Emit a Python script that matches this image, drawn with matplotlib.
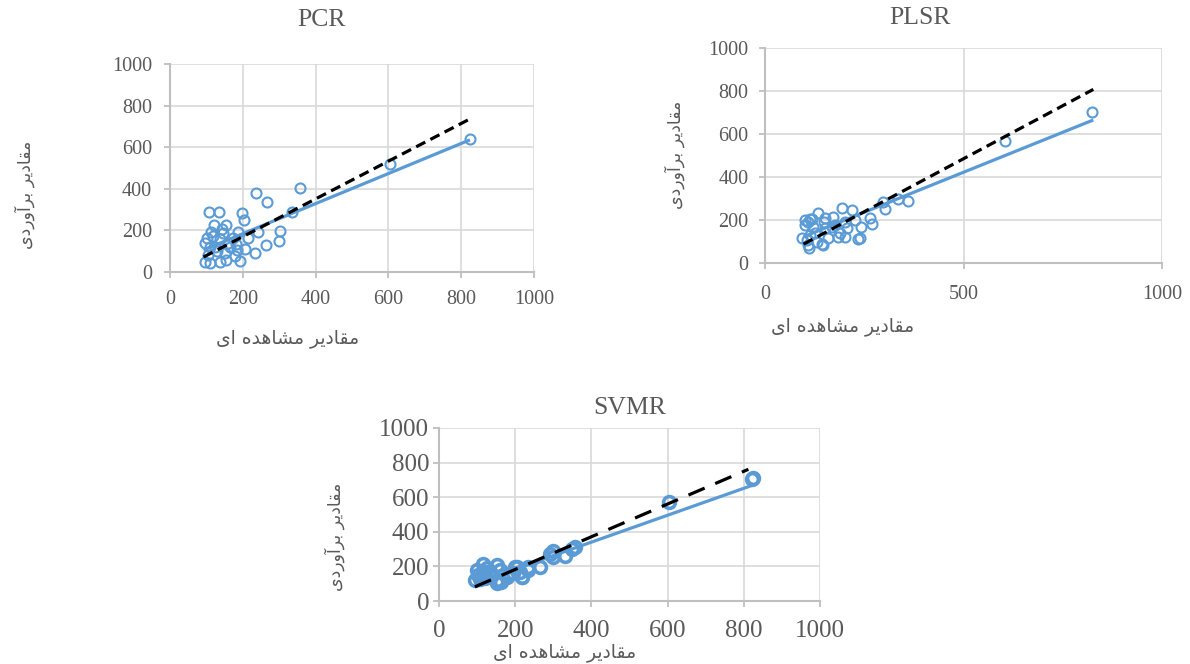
import numpy as np
import matplotlib.pyplot as plt

# --- observed / estimated values for each model ---
pcr_obs = [824, 604, 357, 236, 267, 335, 108, 134, 198, 204, 120, 153, 112, 146, 188, 242, 302,
           101, 137, 173, 214, 299, 264, 96, 124, 165, 206, 234, 151, 179, 192, 137, 96, 110,
           184, 104, 118, 160, 128, 142, 180, 110, 155]
pcr_est = [639, 519, 404, 380, 337, 290, 288, 288, 282, 248, 228, 228, 193, 187, 190, 192, 195,
           163, 159, 163, 163, 147, 130, 139, 120, 120, 111, 91, 91, 77, 53, 48, 48, 45,
           106, 82, 175, 140, 100, 205, 135, 120, 60]

plsr_obs = [823, 605, 298, 302, 336, 359, 193, 113, 134, 151, 171, 101, 122, 168, 201, 227, 264,
            269, 206, 151, 92, 113, 185, 201, 239, 109, 143, 159, 130, 108, 243, 218, 176, 235,
            118, 100, 125, 190, 148, 105, 111, 147]
plsr_est = [704, 569, 285, 253, 298, 288, 258, 203, 231, 209, 215, 177, 169, 169, 192, 200, 210,
            182, 161, 161, 115, 130, 122, 122, 115, 84, 90, 115, 99, 192, 169, 245, 177, 112,
            205, 200, 140, 140, 190, 105, 68, 84]

svmr_obs = [823, 822, 604, 357, 350, 300, 300, 330, 265, 234, 219, 291, 116, 151, 99, 103, 94,
            134, 151, 151, 199, 212, 217, 234, 178, 121, 164, 112, 204, 195, 125, 140, 108, 160,
            185, 120]
svmr_est = [711, 705, 571, 312, 300, 289, 255, 259, 197, 197, 140, 274, 216, 207, 178, 149, 121,
            168, 121, 102, 197, 168, 140, 182, 140, 168, 111, 149, 197, 163, 190, 150, 130, 180,
            155, 135]

# trend line (solid) and dashed line: slope, intercept, x span
fit_slope = [0.723, 0.744, 0.778]
fit_icpt = [39.5, 50.0, 29.0]
ref_slope = [0.907, 0.986, 0.946]
ref_icpt = [-11.5, -8.0, -7.0]
line_x = [[92, 824], [97, 827], [94, 820]]
ref_x_end = [824, 827, 812]

titles = ['PCR', 'PLSR', 'SVMR']
x_ticks = [[0, 200, 400, 600, 800, 1000], [0, 500, 1000], [0, 200, 400, 600, 800, 1000]]
y_ticks = [0, 200, 400, 600, 800, 1000]

ylab_fa = 'مقادیر برآوردی'
xlab_fa = 'مقادیر مشاهده ای'

# Arabic-script shaping (isolated, final, initial, medial)
FORMS = {
    'ا': '\uFE8D\uFE8E\uFE8D\uFE8E', 'آ': '\uFE81\uFE82\uFE81\uFE82',
    'ب': '\uFE8F\uFE90\uFE91\uFE92', 'د': '\uFEA9\uFEAA\uFEA9\uFEAA',
    'ر': '\uFEAD\uFEAE\uFEAD\uFEAE', 'و': '\uFEED\uFEEE\uFEED\uFEEE',
    'ش': '\uFEB5\uFEB6\uFEB7\uFEB8', 'ق': '\uFED5\uFED6\uFED7\uFED8',
    'م': '\uFEE1\uFEE2\uFEE3\uFEE4', 'ه': '\uFEE9\uFEEA\uFEEB\uFEEC',
    'ی': '\uFEEF\uFEF0\uFEF3\uFEF4',
}
NO_LEFT = set('اآدذرزژو')


def shape_fa(text):
    out = []
    for i, c in enumerate(text):
        if c not in FORMS:
            out.append(c)
            continue
        prev = text[i - 1] if i > 0 else ''
        nxt = text[i + 1] if i + 1 < len(text) else ''
        join_prev = prev in FORMS and prev not in NO_LEFT
        join_next = nxt in FORMS and c not in NO_LEFT
        idx = {(False, False): 0, (True, False): 1, (False, True): 2, (True, True): 3}[(join_prev, join_next)]
        out.append(FORMS[c][idx])
    return ''.join(reversed(out))


blue = '#5B9BD5'
txt_gray = '#595959'
axis_gray = '#BFBFBF'
grid_gray = '#D9D9D9'

plt.rcParams['font.family'] = ['Liberation Serif']

fig = plt.figure(figsize=(11.9, 6.64), dpi=100)
W, H = 1190, 664

# axes boxes in pixels: left, top, right, bottom
boxes = [(170, 64, 534, 272), (765, 48, 1162, 263), (439, 428, 820, 601)]
obs_all = [pcr_obs, plsr_obs, svmr_obs]
est_all = [pcr_est, plsr_est, svmr_est]
tick_fs = [14.5, 14.5, 18]
tick_pad_x = [9, 12, 10]
tick_pad_y = [9, 8, 3]
ms = [7.2, 7.2, 8.5]
mew = [1.5, 1.5, 2.6]
dash = [(3.2, 1.8), (3.2, 1.8), (5.5, 3.6)]

title_pos = [(322, 20), (920, 18), (630, 408)]
ylab_pos = [(25, 195), (675, 155), (335, 537)]
xlab_pos = [(288, 339), (843, 327), (565, 652)]

for k in range(3):
    l, t, r, b = boxes[k]
    ax = fig.add_axes([l / W, 1 - b / H, (r - l) / W, (b - t) / H])
    ax.set_xlim(0, 1000)
    ax.set_ylim(0, 1000)
    ax.set_xticks(x_ticks[k])
    ax.set_yticks(y_ticks)
    ax.grid(True, color=grid_gray, linewidth=1.2)
    ax.set_axisbelow(True)
    for s in ['top', 'right']:
        ax.spines[s].set_visible(False)
    for s in ['left', 'bottom']:
        ax.spines[s].set_color(axis_gray)
        ax.spines[s].set_linewidth(1.5)
    ax.tick_params(axis='both', colors=axis_gray, labelcolor=txt_gray, length=4, width=1.3,
                   labelsize=tick_fs[k])
    ax.tick_params(axis='x', pad=tick_pad_x[k])
    ax.tick_params(axis='y', pad=tick_pad_y[k])

    ax.plot(obs_all[k], est_all[k], 'o', markerfacecolor='none', markeredgecolor=blue,
            markersize=ms[k], markeredgewidth=mew[k], zorder=3)

    xs = np.array(line_x[k], dtype=float)
    ax.plot(xs, fit_slope[k] * xs + fit_icpt[k], color=blue, linewidth=2.3, zorder=4,
            solid_capstyle='butt')
    xr = np.array([line_x[k][0], ref_x_end[k]], dtype=float)
    ax.plot(xr, ref_slope[k] * xr + ref_icpt[k], color='black', linewidth=2.3,
            dashes=dash[k], zorder=5)

    tx, ty = title_pos[k]
    fig.text(tx / W, 1 - ty / H, titles[k], fontsize=18.5, color=txt_gray, ha='center', va='center')
    yx, yy = ylab_pos[k]
    fig.text(yx / W, 1 - yy / H, shape_fa(ylab_fa), fontsize=12.5, color=txt_gray, rotation=90,
             ha='center', va='center', family=['DejaVu Sans'])
    xx, xy = xlab_pos[k]
    fig.text(xx / W, 1 - xy / H, shape_fa(xlab_fa), fontsize=13.5, color=txt_gray,
             ha='center', va='center', family=['DejaVu Sans'])

fig.savefig('out.png', dpi=100, facecolor='white')
